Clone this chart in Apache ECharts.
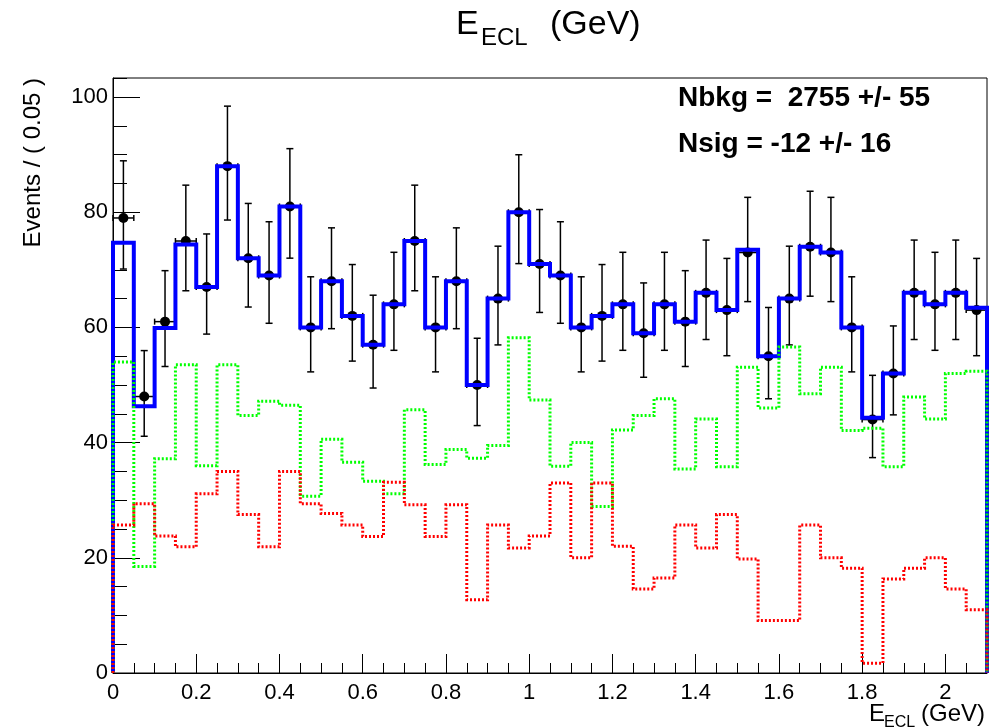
<!DOCTYPE html>
<html><head><meta charset="utf-8">
<script src="https://cdn.jsdelivr.net/npm/echarts@6/dist/echarts.min.js"></script>
<style>html,body{margin:0;padding:0;background:#fff}#c{width:999px;height:728px}</style>
</head><body><div id="c"></div>
<script>
// ---- data (bins of 0.05 GeV from 0 to 2.1) ----
const binWidth = 0.05;
const xMin = 0, xMax = 2.1;
const yMax = 103.3;
const dataCounts = [79,48,61,75,67,88,72,69,81,60,68,62,57,64,75,60,68,50,65,80,71,69,60,62,64,59,64,61,66,63,73,55,65,74,73,60,44,52,66,64,66,63];
const fitTotal = [74.7,46.3,59.9,74.4,67,88,72,69,81,60,68,62,57,64,75,60,68,50,65,80,71,69,60,62,64,59,64,61,66,63,73.5,55,65,74,73,60,44.3,52,66,64,66,63.4];
const compGreen = [54,18.5,37.2,53.5,36,53.5,44.7,47.2,46.5,30.7,40.6,36.6,33.3,31.1,45.7,36.2,38.8,37.3,39.5,58.2,47.4,35.9,40,28.9,42.2,44.7,47.6,35.4,44.1,35.8,53.1,46,56.6,48.5,53.1,42.1,42.5,35.8,47.9,44.1,52,52.4];
const compRed = [25.7,29.4,23.8,21.9,31.1,35,27.5,21.9,35,29.4,27.7,25.7,23.7,33.1,29.2,23.7,29.2,12.7,25.7,21.7,23.8,33,20,33,22,14.6,16.5,25.7,21.7,27.5,19.8,9.1,9.1,25.7,20,18.2,1.7,16.3,18.2,20,14.6,11];
const titleMain = 'E', titleSub = 'ECL', titleUnit = '(GeV)';
const yTitle = 'Events / ( 0.05 )';
const statLines = ['Nbkg =  2755 +/- 55', 'Nsig = -12 +/- 16'];

// Poisson (Garwood) 68% interval, Wilson-Hilferty approximation
function poissonLo(n){ if(n<=0) return 0; const k=2*n, a=2/(9*k); return 0.5*k*Math.pow(1-a-Math.sqrt(a),3); }
function poissonHi(n){ const k=2*(n+1), a=2/(9*k); return 0.5*k*Math.pow(1-a+Math.sqrt(a),3); }

function stepPoints(vals){
  const pts=[[xMin,0]];
  vals.forEach((v,i)=>{ pts.push([xMin+i*binWidth,v]); pts.push([xMin+(i+1)*binWidth,v]); });
  pts.push([xMin+vals.length*binWidth,0]);
  return pts;
}
const errData = dataCounts.map((n,i)=>[xMin+(i+0.5)*binWidth, n, poissonLo(n), poissonHi(n)]);

const FONT = "'Liberation Sans', Arial, Helvetica, sans-serif";
const chart = echarts.init(document.getElementById('c'), null, {renderer:'canvas'});
const grid = {left:113, right:12, top:78, bottom:55, show:true, borderColor:'#000', borderWidth:1, backgroundColor:'transparent'};

chart.setOption({
  animation:false,
  backgroundColor:'#fff',
  grid: grid,
  xAxis: [
    {type:'value', min:xMin, max:xMax, interval:0.2, position:'bottom',
     axisLine:{show:true, onZero:false, lineStyle:{color:'#000', width:1}},
     axisTick:{show:true, inside:true, length:19, lineStyle:{color:'#000', width:1}},
     axisLabel:{show:true, color:'#000', fontSize:22, fontFamily:FONT, margin:9, showMaxLabel:false},
     splitLine:{show:false}},
    {type:'value', min:xMin, max:xMax, interval:binWidth, position:'bottom',
     axisLine:{show:false}, axisLabel:{show:false}, splitLine:{show:false},
     axisTick:{show:true, inside:true, length:10, lineStyle:{color:'#000', width:1}}}
  ],
  yAxis: [
    {type:'value', min:0, max:yMax, interval:20, position:'left',
     axisLine:{show:true, onZero:false, lineStyle:{color:'#000', width:1}},
     axisTick:{show:true, inside:true, length:27, lineStyle:{color:'#000', width:1}},
     axisLabel:{show:true, color:'#000', fontSize:22, fontFamily:FONT, margin:5, showMaxLabel:false},
     splitLine:{show:false}},
    {type:'value', min:0, max:yMax, interval:5, position:'left', offset:0,
     axisLine:{show:false}, axisLabel:{show:false}, splitLine:{show:false},
     axisTick:{show:true, inside:true, length:14, lineStyle:{color:'#000', width:1}}}
  ],
  series: [
    {type:'custom', name:'data', xAxisIndex:0, yAxisIndex:0, z:2, clip:false,
     data: errData,
     encode:{x:0, y:[1,2,3]},
     renderItem: function(params, api){
       const x=api.value(0), n=api.value(1), lo=api.value(2), hi=api.value(3);
       const c=api.coord([x,n]), pl=api.coord([x,lo]), ph=api.coord([x,hi]);
       const l=api.coord([x-binWidth/2,n]), r=api.coord([x+binWidth/2,n]);
       const st={stroke:'#000', lineWidth:1.5};
       const cw=3.5, th=3;
       return {type:'group', children:[
         {type:'line', shape:{x1:c[0],y1:pl[1],x2:c[0],y2:ph[1]}, style:st},
         {type:'line', shape:{x1:c[0]-cw,y1:pl[1],x2:c[0]+cw,y2:pl[1]}, style:st},
         {type:'line', shape:{x1:c[0]-cw,y1:ph[1],x2:c[0]+cw,y2:ph[1]}, style:st},
         {type:'line', shape:{x1:l[0],y1:c[1],x2:r[0],y2:c[1]}, style:st},
         {type:'line', shape:{x1:l[0],y1:c[1]-th,x2:l[0],y2:c[1]+th}, style:st},
         {type:'line', shape:{x1:r[0],y1:c[1]-th,x2:r[0],y2:c[1]+th}, style:st},
         {type:'circle', shape:{cx:c[0], cy:c[1], r:5}, style:{fill:'#000'}}
       ]};
     }},
    {type:'line', name:'total', data:stepPoints(fitTotal), showSymbol:false, symbol:'none', z:3, clip:false,
     lineStyle:{color:'#0000ff', width:4, join:'miter', cap:'butt'}},
    {type:'line', name:'green', data:stepPoints(compGreen), showSymbol:false, symbol:'none', z:4, clip:false,
     lineStyle:{color:'#00ff00', width:3, type:[2,2], join:'miter', cap:'butt'}},
    {type:'line', name:'red', data:stepPoints(compRed), showSymbol:false, symbol:'none', z:5, clip:false,
     lineStyle:{color:'#ff0000', width:3, type:[2,2], join:'miter', cap:'butt'}}
  ],
  graphic: [
    {type:'text', x:456, y:25, style:{text:titleMain, font:"34px "+FONT, fill:'#000', align:'left', verticalAlign:'middle'}},
    {type:'text', x:481, y:38, style:{text:titleSub, font:"24px "+FONT, fill:'#000', align:'left', verticalAlign:'middle'}},
    {type:'text', x:550, y:25, style:{text:titleUnit, font:"34px "+FONT, fill:'#000', align:'left', verticalAlign:'middle'}},
    {type:'text', x:869, y:714, style:{text:titleMain, font:"24px "+FONT, fill:'#000', align:'left', verticalAlign:'middle'}},
    {type:'text', x:884, y:723, style:{text:titleSub, font:"16px "+FONT, fill:'#000', align:'left', verticalAlign:'middle'}},
    {type:'text', x:921, y:714, style:{text:titleUnit, font:"24px "+FONT, fill:'#000', align:'left', verticalAlign:'middle'}},
    {type:'text', x:33, y:78, rotation:Math.PI/2, style:{text:yTitle, font:"24px "+FONT, fill:'#000', align:'right', verticalAlign:'middle'}},
    {type:'text', x:678, y:98, style:{text:statLines[0], font:"bold 28px "+FONT, fill:'#000', align:'left', verticalAlign:'middle'}},
    {type:'text', x:678, y:144, style:{text:statLines[1], font:"bold 28px "+FONT, fill:'#000', align:'left', verticalAlign:'middle'}}
  ]
});
</script></body></html>
